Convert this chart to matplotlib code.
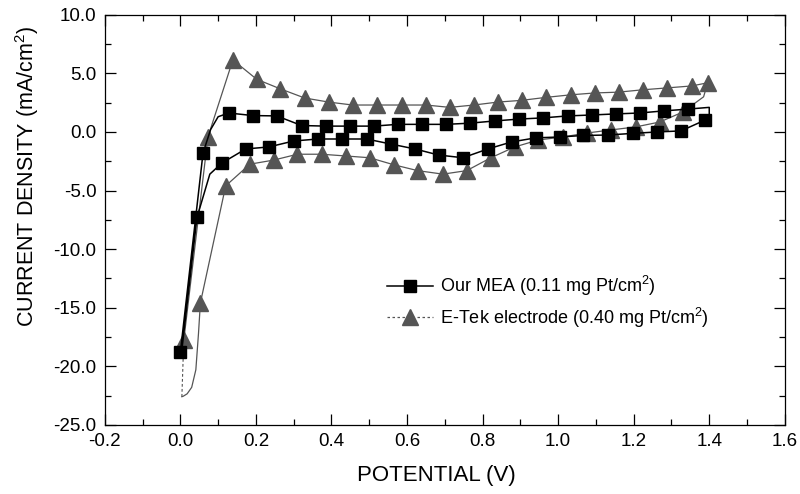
import matplotlib
matplotlib.use("Agg")
import matplotlib.pyplot as plt
from matplotlib.lines import Line2D
from matplotlib.ticker import MultipleLocator, FormatStrFormatter

# ---- data (potential in V, current density in mA/cm^2) ----
# Our MEA: line vertices (sweep order) and marker positions
mea_line_v = [0.000, 0.060, 0.080, 0.100, 0.128, 0.192, 0.255, 0.321, 0.385, 0.448,
              0.512, 0.575, 0.639, 0.703, 0.766, 0.832, 0.896, 0.959, 1.025, 1.089,
              1.152, 1.216, 1.280, 1.343, 1.400, 1.400, 1.388, 1.325, 1.261, 1.198,
              1.131, 1.065, 1.004, 0.941, 0.877, 0.814, 0.748, 0.684, 0.621, 0.557,
              0.493, 0.427, 0.364, 0.300, 0.234, 0.173, 0.110, 0.078, 0.044, 0.004]
mea_line_j = [-18.8, -1.8, 0.2, 1.3, 1.62, 1.4, 1.37, 0.55, 0.5, 0.5,
              0.5, 0.65, 0.65, 0.65, 0.75, 0.94, 1.1, 1.2, 1.37, 1.45,
              1.54, 1.62, 1.8, 1.95, 2.1, 1.5, 1.0, 0.09, 0.0, -0.12,
              -0.26, -0.3, -0.43, -0.5, -0.85, -1.45, -2.2, -1.97, -1.45, -1.03,
              -0.6, -0.6, -0.6, -0.77, -1.28, -1.45, -2.65, -3.6, -7.3, -18.6]
mea_mark_v = [0.000, 0.060, 0.128, 0.192, 0.255, 0.321, 0.385, 0.448, 0.512, 0.575,
              0.639, 0.703, 0.766, 0.832, 0.896, 0.959, 1.025, 1.089, 1.152, 1.216,
              1.280, 1.343, 1.388, 1.325, 1.261, 1.198, 1.131, 1.065, 1.004, 0.941,
              0.877, 0.814, 0.748, 0.684, 0.621, 0.557, 0.493, 0.427, 0.364, 0.300,
              0.234, 0.173, 0.110, 0.044]
mea_mark_j = [-18.8, -1.8, 1.62, 1.4, 1.37, 0.55, 0.5, 0.5, 0.5, 0.65,
              0.65, 0.65, 0.75, 0.94, 1.1, 1.2, 1.37, 1.45, 1.54, 1.62,
              1.8, 1.95, 1.0, 0.09, 0.0, -0.12, -0.26, -0.3, -0.43, -0.5,
              -0.85, -1.45, -2.2, -1.97, -1.45, -1.03, -0.6, -0.6, -0.6, -0.77,
              -1.28, -1.45, -2.65, -7.3]

# E-Tek electrode: line vertices (sweep order) and marker positions
et_line_v = [0.004, 0.009, 0.073, 0.139, 0.202, 0.263, 0.329, 0.393, 0.456, 0.520,
             0.586, 0.650, 0.713, 0.777, 0.840, 0.904, 0.967, 1.033, 1.097, 1.160,
             1.224, 1.288, 1.354, 1.396, 1.385, 1.330, 1.269, 1.205, 1.139, 1.076,
             1.012, 0.948, 0.885, 0.822, 0.758, 0.695, 0.628, 0.565, 0.501, 0.438,
             0.374, 0.310, 0.247, 0.184, 0.120, 0.053, 0.048, 0.041, 0.030, 0.018,
             0.008, 0.004]
et_line_j = [-22.6, -17.8, -0.43, 6.15, 4.5, 3.7, 2.9, 2.55, 2.3, 2.3,
             2.3, 2.3, 2.1, 2.3, 2.55, 2.7, 2.95, 3.17, 3.33, 3.4,
             3.6, 3.76, 3.93, 4.2, 3.0, 1.7, 0.85, 0.43, 0.17, -0.09,
             -0.43, -0.68, -1.28, -2.2, -3.3, -3.6, -3.3, -2.8, -2.2, -2.05,
             -1.9, -1.9, -2.4, -2.75, -4.6, -14.6, -17.2, -20.3, -21.8, -22.35,
             -22.55, -22.6]
et_mark_v = et_line_v[1:24] + et_line_v[25:46]
et_mark_j = et_line_j[1:24] + et_line_j[25:46]

labels = ["Our MEA (0.11 mg Pt/cm$^2$)", "E-Tek electrode (0.40 mg Pt/cm$^2$)"]
x_label = "POTENTIAL (V)"
y_label = "CURRENT DENSITY (mA/cm$^2$)"

plt.rcParams['font.family'] = ['Liberation Sans', 'DejaVu Sans']
plt.rcParams['mathtext.fontset'] = 'custom'
plt.rcParams['mathtext.rm'] = 'Liberation Sans'

fig = plt.figure(figsize=(8.0, 4.94), dpi=100)
ax = fig.add_axes([0.131, 0.140, 0.850, 0.830])

black = "#000000"
gray = "#555555"

# E-Tek
ax.plot(et_line_v[:2], et_line_j[:2], color=gray, lw=0.8, ls=(0, (2.5, 2)), zorder=2)
ax.plot(et_line_v[1:], et_line_j[1:], color=gray, lw=0.9, zorder=2)
ax.plot(et_mark_v, et_mark_j, ls='none', marker='^', ms=11, color=gray,
        markeredgecolor=gray, zorder=3)
# MEA
ax.plot(mea_line_v, mea_line_j, color=black, lw=1.1, zorder=4)
ax.plot(mea_mark_v, mea_mark_j, ls='none', marker='s', ms=9, color=black, zorder=5)

ax.set_xlim(-0.2, 1.6)
ax.set_ylim(-25, 10)
ax.xaxis.set_major_locator(MultipleLocator(0.2))
ax.xaxis.set_minor_locator(MultipleLocator(0.1))
ax.yaxis.set_major_locator(MultipleLocator(5))
ax.yaxis.set_minor_locator(MultipleLocator(2.5))
ax.xaxis.set_major_formatter(FormatStrFormatter('%.1f'))
ax.yaxis.set_major_formatter(FormatStrFormatter('%.1f'))
ax.tick_params(which='both', direction='in', top=True, right=True, width=0.9)
ax.tick_params(which='major', length=8, labelsize=13.5, pad=6)
ax.tick_params(which='minor', length=4)
for s in ax.spines.values():
    s.set_linewidth(0.9)

ax.set_xlabel(x_label, fontsize=16)
ax.set_ylabel(y_label, fontsize=15.5)
ax.xaxis.set_label_coords(0.488, -0.097)
ax.yaxis.set_label_coords(-0.094, 0.605)

handles = [
    Line2D([], [], color=black, lw=1.1, marker='s', ms=9),
    Line2D([], [], color=gray, lw=0.9, ls=(0, (2, 2)), marker='^', ms=11),
]
ax.legend(handles, labels, loc='upper left', bbox_to_anchor=(0.405, 0.385),
          frameon=False, fontsize=13, handlelength=2.5, handletextpad=0.4,
          labelspacing=0.4, borderaxespad=0.0)

fig.savefig("out.png", dpi=100)
